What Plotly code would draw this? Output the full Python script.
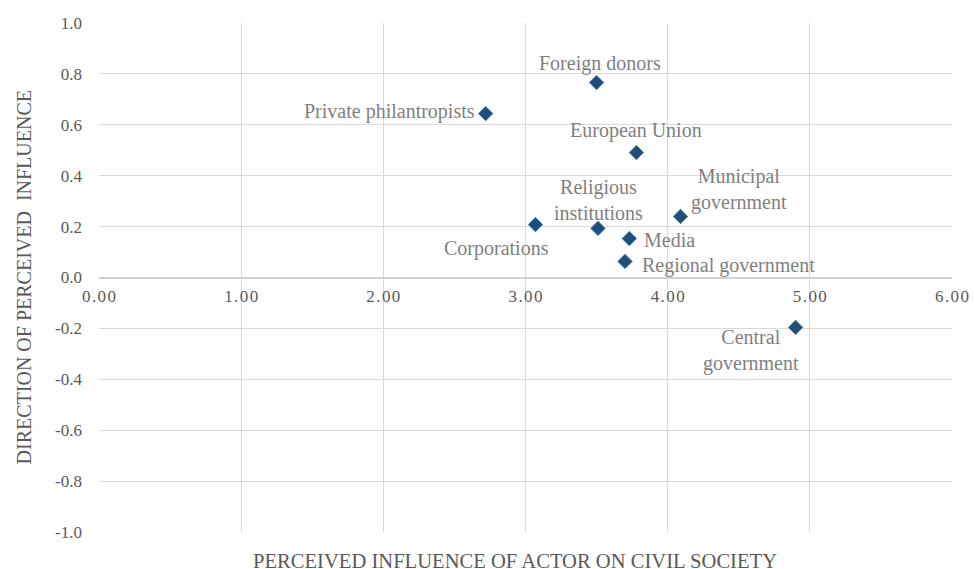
import plotly.graph_objects as go

actors = ["Private philantropists", "Foreign donors", "European Union", "Municipal<br>government",
          "Corporations", "Religious<br>institutions", "Media", "Regional government", "Central<br>government"]
influence = [2.72, 3.50, 3.78, 4.09, 3.07, 3.51, 3.73, 3.70, 4.90]
direction = [0.644, 0.766, 0.491, 0.240, 0.208, 0.193, 0.153, 0.063, -0.196]

x_ticks = [0, 1, 2, 3, 4, 5, 6]
x_tick_labels = ["0.00", "1.00", "2.00", "3.00", "4.00", "5.00", "6.00"]
y_ticks = [-1.0, -0.8, -0.6, -0.4, -0.2, 0.0, 0.2, 0.4, 0.6, 0.8, 1.0]
y_tick_labels = ["-1.0", "-0.8", "-0.6", "-0.4", "-0.2", "0.0", "0.2", "0.4", "0.6", "0.8", "1.0"]

# label placement (style): xanchor, xshift, yshift
placement = [
    ("right", -9, 2), ("center", 3, 19), ("center", 0, 22), ("center", 59, 27),
    ("center", -39, -24), ("center", 0, 28), ("left", 13, -1), ("left", 15, -4), ("center", -45, -23),
]

FONT = "Liberation Serif, Times New Roman, serif"
GRAY = "#595959"

fig = go.Figure()
fig.add_trace(go.Scatter(
    x=influence, y=direction, mode="markers",
    marker=dict(symbol="diamond", size=11, color="#1f4e79", line=dict(color="#2e75b6", width=1)),
    hoverinfo="skip", showlegend=False,
))

annotations = []
for name, xv, yv, (xa, xs, ys) in zip(actors, influence, direction, placement):
    annotations.append(dict(
        x=xv, y=yv, xref="x", yref="y", text=name, showarrow=False,
        xanchor=xa, yanchor="middle", xshift=xs, yshift=ys,
        font=dict(family=FONT, size=20, color="#7f7f7f"),
    ))

annotations.append(dict(
    x=0.488, y=-0.056, xref="paper", yref="paper", yanchor="middle",
    text="PERCEIVED INFLUENCE OF ACTOR ON CIVIL SOCIETY", showarrow=False,
    font=dict(family=FONT, size=20.6, color=GRAY),
))
annotations.append(dict(
    x=-0.088, y=0.5, xref="paper", yref="paper", textangle=-90,
    xanchor="center", yanchor="middle",
    text="DIRECTION OF PERCEIVED  INFLUENCE", showarrow=False,
    font=dict(family=FONT, size=20, color=GRAY),
))

hair = "\u200a"
spaced_x = [hair.join(list(t)) for t in x_tick_labels]

fig.update_layout(
    width=974, height=569,
    margin=dict(l=99, r=22, t=23, b=37, autoexpand=False),
    paper_bgcolor="white", plot_bgcolor="white",
    font=dict(family=FONT, color=GRAY, size=16),
    annotations=annotations,
    xaxis=dict(
        range=[0, 6], tickvals=x_ticks, ticktext=spaced_x,
        showgrid=True, gridcolor="#d9d9d9", gridwidth=1,
        zeroline=False, showline=False, automargin=False,
        anchor="free", position=0.5, ticks="", ticklen=0, ticklabelstandoff=6,
        tickfont=dict(family=FONT, size=17, color=GRAY),
    ),
    yaxis=dict(
        range=[-1, 1], tickvals=y_ticks, ticktext=y_tick_labels,
        showgrid=True, gridcolor="#d9d9d9", gridwidth=1,
        zeroline=True, zerolinecolor="#d0d0d0", zerolinewidth=2,
        showline=False, ticks="", automargin=False, ticklabelstandoff=16,
        tickfont=dict(family=FONT, size=17, color=GRAY),
    ),
)

fig.write_html(
    "out.html",
    config={"displayModeBar": False},
    post_script="document.documentElement.style.overflow='hidden';"
                "document.body.style.margin='0';document.body.style.overflow='hidden';",
)
